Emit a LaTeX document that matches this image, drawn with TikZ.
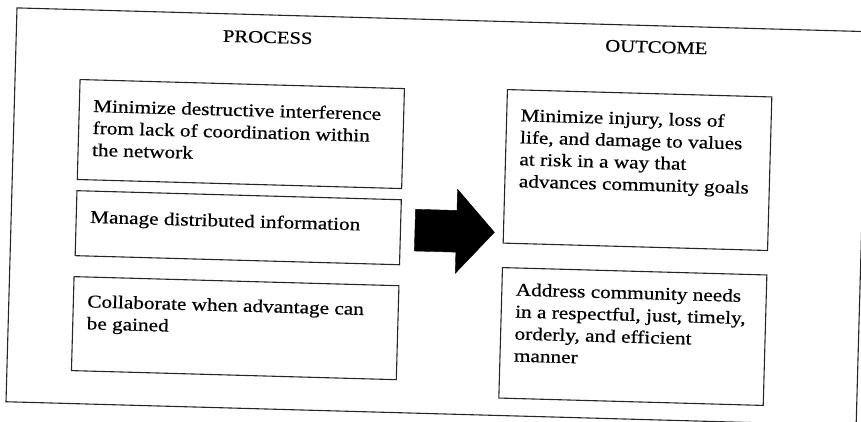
\documentclass[tikz,border=0pt]{standalone}
\usepackage{fontspec}
\setmainfont{Liberation Serif}[FakeStretch=1.18, FakeBold=0.6]
\newcommand{\boxlines}[4]{\parbox[c][#2pt][t]{#1pt}{\leftskip=14pt\vspace*{#3pt}\strut #4}}
\begin{document}
\begin{tikzpicture}[x=1pt,y=-1pt,
  frame/.style={draw=black!85, line width=1.1pt},
  box/.style={draw=black!85, line width=1.1pt, anchor=north west, inner sep=0pt,
    font=\fontsize{18}{22}\selectfont},
  title/.style={anchor=base west, inner sep=0pt, font=\fontsize{17.5}{21}\selectfont},
  bigarrow/.style={fill=black, draw=black, line width=0.4pt, line join=round}]
\useasboundingbox (0,0) rectangle (861,421);
\begin{scope}[rotate around={-1.6:(430,210)}, transform shape]
  \draw[frame] (11.5,19.5) rectangle (862,413.5);
  \node[title] (process) at (218,47.5) {PROCESS};
  \node[title] (outcome) at (600.5,46.5) {OUTCOME};
  \node[box] (p1) at (76,88.8) {\boxlines{324.5}{100}{16.6}{Minimize destructive interference\\from lack of coordination within\\the network}};
  \node[box] (p2) at (76,200) {\boxlines{324.5}{65}{16.4}{Manage distributed information}};
  \node[box] (p3) at (75.5,286) {\boxlines{325}{94}{14.9}{Collaborate when advantage can\\be gained}};
  \node[box] (o1) at (503.5,86.9) {\boxlines{264.5}{153.6}{15.9}{Minimize injury, loss of\\life, and damage to values\\at risk in a way that\\advances community goals}};
  \node[box] (o2) at (503.5,265) {\boxlines{264.5}{130.5}{12.2}{Address community needs\\in a respectful, just, timely,\\orderly, and efficient\\manner}};
  \fill[bigarrow] (415.5,209.7) -- (457,209.7) -- (457,188.5) -- (495,230.5)
     -- (457,272.6) -- (457,251.4) -- (415.5,251.4) -- cycle;
\end{scope}
\end{tikzpicture}
\end{document}
